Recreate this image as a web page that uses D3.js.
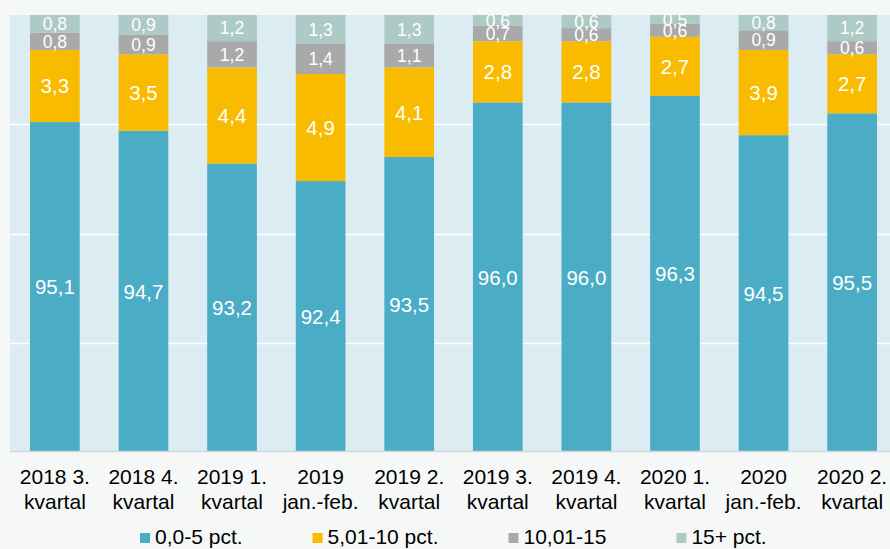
<!DOCTYPE html>
<html>
<head>
<meta charset="utf-8">
<script src="https://cdn.jsdelivr.net/npm/d3@7"></script>
<style>
  body { margin: 0; background: #f6f8f8; }
  svg { display: block; font-family: "Liberation Sans", Arial, sans-serif; }
</style>
</head>
<body>
<div id="app"></div>
<script>
var categories = ['2018 3.\nkvartal', '2018 4.\nkvartal', '2019 1.\nkvartal', '2019\njan.-feb.', '2019 2.\nkvartal',
                  '2019 3.\nkvartal', '2019 4.\nkvartal', '2020 1.\nkvartal', '2020\njan.-feb.', '2020 2.\nkvartal'];
var seriesNames = ['0,0-5 pct.', '5,01-10 pct.', '10,01-15', '15+ pct.'];
var low    = [95.1, 94.7, 93.2, 92.4, 93.5, 96.0, 96.0, 96.3, 94.5, 95.5];
var mid    = [3.3, 3.5, 4.4, 4.9, 4.1, 2.8, 2.8, 2.7, 3.9, 2.7];
var high   = [0.8, 0.9, 1.2, 1.4, 1.1, 0.7, 0.6, 0.6, 0.9, 0.6];
var top15  = [0.8, 0.9, 1.2, 1.3, 1.3, 0.6, 0.6, 0.5, 0.8, 1.2];
var yTicks = [85, 90, 95];

var colors = ['#4bacc6', '#f9bb00', '#a9a9a9', '#aecac6'];
var width = 890, height = 549;
var plotLeft = 10, plotRight = 890, plotTop = 15, plotBottom = 452;

var rows = categories.map(function(c, i) {
  return {cat: c, s0: low[i], s1: mid[i], s2: high[i], s3: top15[i]};
});
var stack = d3.stack().keys(['s0', 's1', 's2', 's3'])(rows);

var x = d3.scaleBand()
  .domain(categories)
  .range([plotLeft, 897])
  .paddingInner(0.439)
  .paddingOuter(0.226);
var y = d3.scaleLinear().domain([80, 100]).range([plotBottom, plotTop]);
var fmt = function(v) { return d3.format('.1f')(v).replace('.', ','); };

var svg = d3.select('#app').append('svg')
  .attr('width', width)
  .attr('height', height);

svg.append('rect').attr('width', width).attr('height', height).attr('fill', '#f6f8f8');

svg.append('clipPath').attr('id', 'plot-clip')
  .append('rect')
  .attr('x', plotLeft).attr('y', plotTop)
  .attr('width', plotRight - plotLeft).attr('height', plotBottom - plotTop);

svg.append('rect')
  .attr('x', plotLeft).attr('y', plotTop)
  .attr('width', plotRight - plotLeft).attr('height', plotBottom - plotTop)
  .attr('fill', '#dbedf3');

svg.selectAll('.grid')
  .data(yTicks)
  .enter().append('line')
  .attr('class', 'grid')
  .attr('x1', plotLeft).attr('x2', plotRight)
  .attr('y1', function(d) { return Math.round(y(d)) + 0.5; })
  .attr('y2', function(d) { return Math.round(y(d)) + 0.5; })
  .attr('stroke', '#ffffff')
  .attr('stroke-width', 1.5);

var plot = svg.append('g').attr('clip-path', 'url(#plot-clip)');

var layers = plot.selectAll('.layer')
  .data(stack)
  .enter().append('g')
  .attr('class', 'layer')
  .attr('fill', function(d, i) { return colors[i]; });

layers.selectAll('rect')
  .data(function(d) { return d; })
  .enter().append('rect')
  .attr('x', function(d) { return x(d.data.cat); })
  .attr('width', x.bandwidth())
  .attr('y', function(d) { return y(d[1]); })
  .attr('height', function(d) { return y(d[0]) - y(d[1]); });

// data labels, centred on the visible part of each segment
var yMin = y.domain()[0], yMax = y.domain()[1];
stack.forEach(function(layer, li) {
  svg.append('g').selectAll('text')
    .data(layer)
    .enter().append('text')
    .attr('x', function(d) { return x(d.data.cat) + x.bandwidth() / 2; })
    .attr('y', function(d) {
      var b = Math.max(d[0], yMin), t = Math.min(d[1], yMax);
      return (y(b) + y(t)) / 2;
    })
    .attr('text-anchor', 'middle')
    .attr('dy', '0.36em')
    .attr('fill', '#ffffff')
    .style('font-size', li < 2 ? '20.5px' : '17.5px')
    .text(function(d) { return fmt(d[1] - d[0]); });
});

// x axis
var xAxis = svg.append('g')
  .attr('transform', 'translate(0,' + plotBottom + ')')
  .call(d3.axisBottom(x).tickSize(0).tickSizeOuter(0));
xAxis.select('.domain').remove();
svg.append('line')
  .attr('x1', plotLeft).attr('x2', plotRight)
  .attr('y1', plotBottom - 0.5).attr('y2', plotBottom - 0.5)
  .attr('stroke', '#d3d8db').attr('stroke-width', 1.5);

xAxis.selectAll('.tick text').each(function(d) {
  var t = d3.select(this).text('').attr('y', 0).attr('dy', null)
    .attr('fill', '#000000')
    .style('font-size', '21px')
    .style('font-family', '"Liberation Sans", Arial, sans-serif');
  d.split('\n').forEach(function(line, i) {
    t.append('tspan').attr('x', 0).attr('y', 32 + i * 24.5).text(line);
  });
});

// legend
var legend = svg.append('g').attr('transform', 'translate(140,0)');
var lx = 0;
seriesNames.forEach(function(name, i) {
  var g = legend.append('g').attr('transform', 'translate(' + lx + ',0)');
  g.append('rect')
    .attr('x', 0).attr('y', 533)
    .attr('width', 10).attr('height', 10)
    .attr('fill', colors[i]);
  var t = g.append('text')
    .attr('x', 15).attr('y', 544)
    .style('font-size', '21px')
    .attr('fill', '#000000')
    .text(name);
  lx += 15 + t.node().getComputedTextLength() + 70;
});
</script>
</body>
</html>
